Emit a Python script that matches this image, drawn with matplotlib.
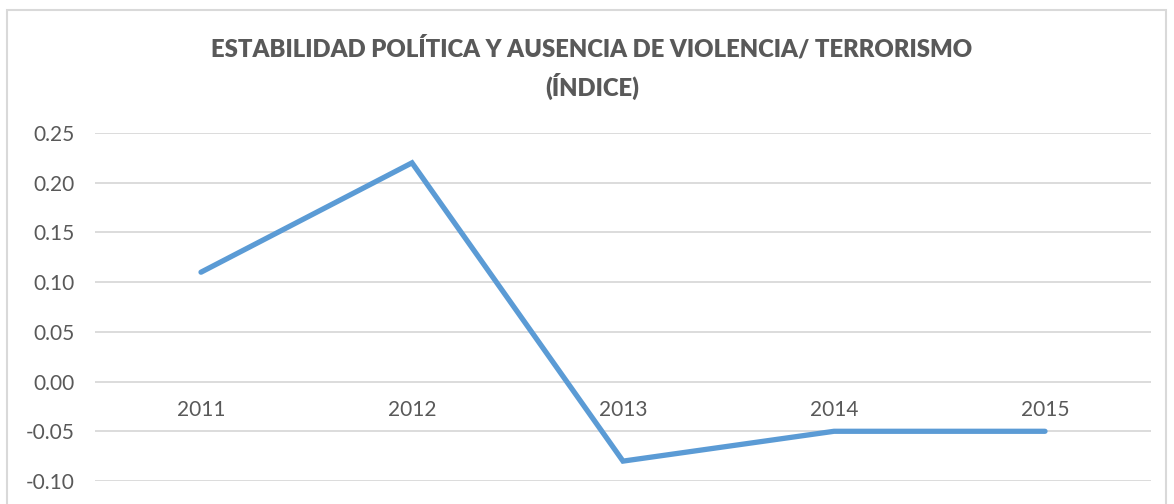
import matplotlib.pyplot as plt
from matplotlib.patches import Rectangle

years = ["2011", "2012", "2013", "2014", "2015"]
index_values = [0.11, 0.22, -0.08, -0.05, -0.05]
y_ticks = [-0.10, -0.05, 0.00, 0.05, 0.10, 0.15, 0.20, 0.25]

TEXT = "#595959"
GRID = "#D9D9D9"
LINE = "#5B9BD5"

plt.rcParams['font.family'] = ['Lato', 'DejaVu Sans']

fig = plt.figure(figsize=(11.74, 5.04), dpi=100)
ax = fig.add_axes([95.5 / 1174, 1 - 481 / 504, 1055 / 1174, 348 / 504])

# chart frame
fig.patches.append(Rectangle((7 / 1174, -0.1), 1159 / 1174, 1 - 10 / 504 + 0.1,
                             transform=fig.transFigure, fill=False,
                             edgecolor=GRID, linewidth=1.5))

x = list(range(len(years)))
ax.plot(x, index_values, color=LINE, linewidth=3.8, solid_capstyle='round',
        solid_joinstyle='miter', zorder=3)

ax.set_xlim(-0.5, len(years) - 0.5)
ax.set_ylim(-0.10, 0.25)
ax.set_yticks(y_ticks)
ax.set_yticklabels([f"{v:.2f}" for v in y_ticks])
ax.set_xticks(x)
ax.set_xticklabels(years)

ax.grid(axis='y', color=GRID, linewidth=1.3)
ax.set_axisbelow(True)
for s in ax.spines.values():
    s.set_visible(False)
ax.spines['bottom'].set_position(('data', 0))
ax.tick_params(axis='both', length=0, colors=TEXT, labelsize=15)
ax.tick_params(axis='y', pad=15)
ax.tick_params(axis='x', pad=13)

fig.text(592 / 1174, 1 - 48 / 504, "ESTABILIDAD POLÍTICA Y AUSENCIA DE VIOLENCIA/ TERRORISMO",
         ha='center', va='center', fontsize=17.2, fontweight='heavy', color=TEXT)
fig.text(592 / 1174, 1 - 86 / 504, "(ÍNDICE)",
         ha='center', va='center', fontsize=17.2, fontweight='heavy', color=TEXT)

fig.savefig("out.png", dpi=100)
